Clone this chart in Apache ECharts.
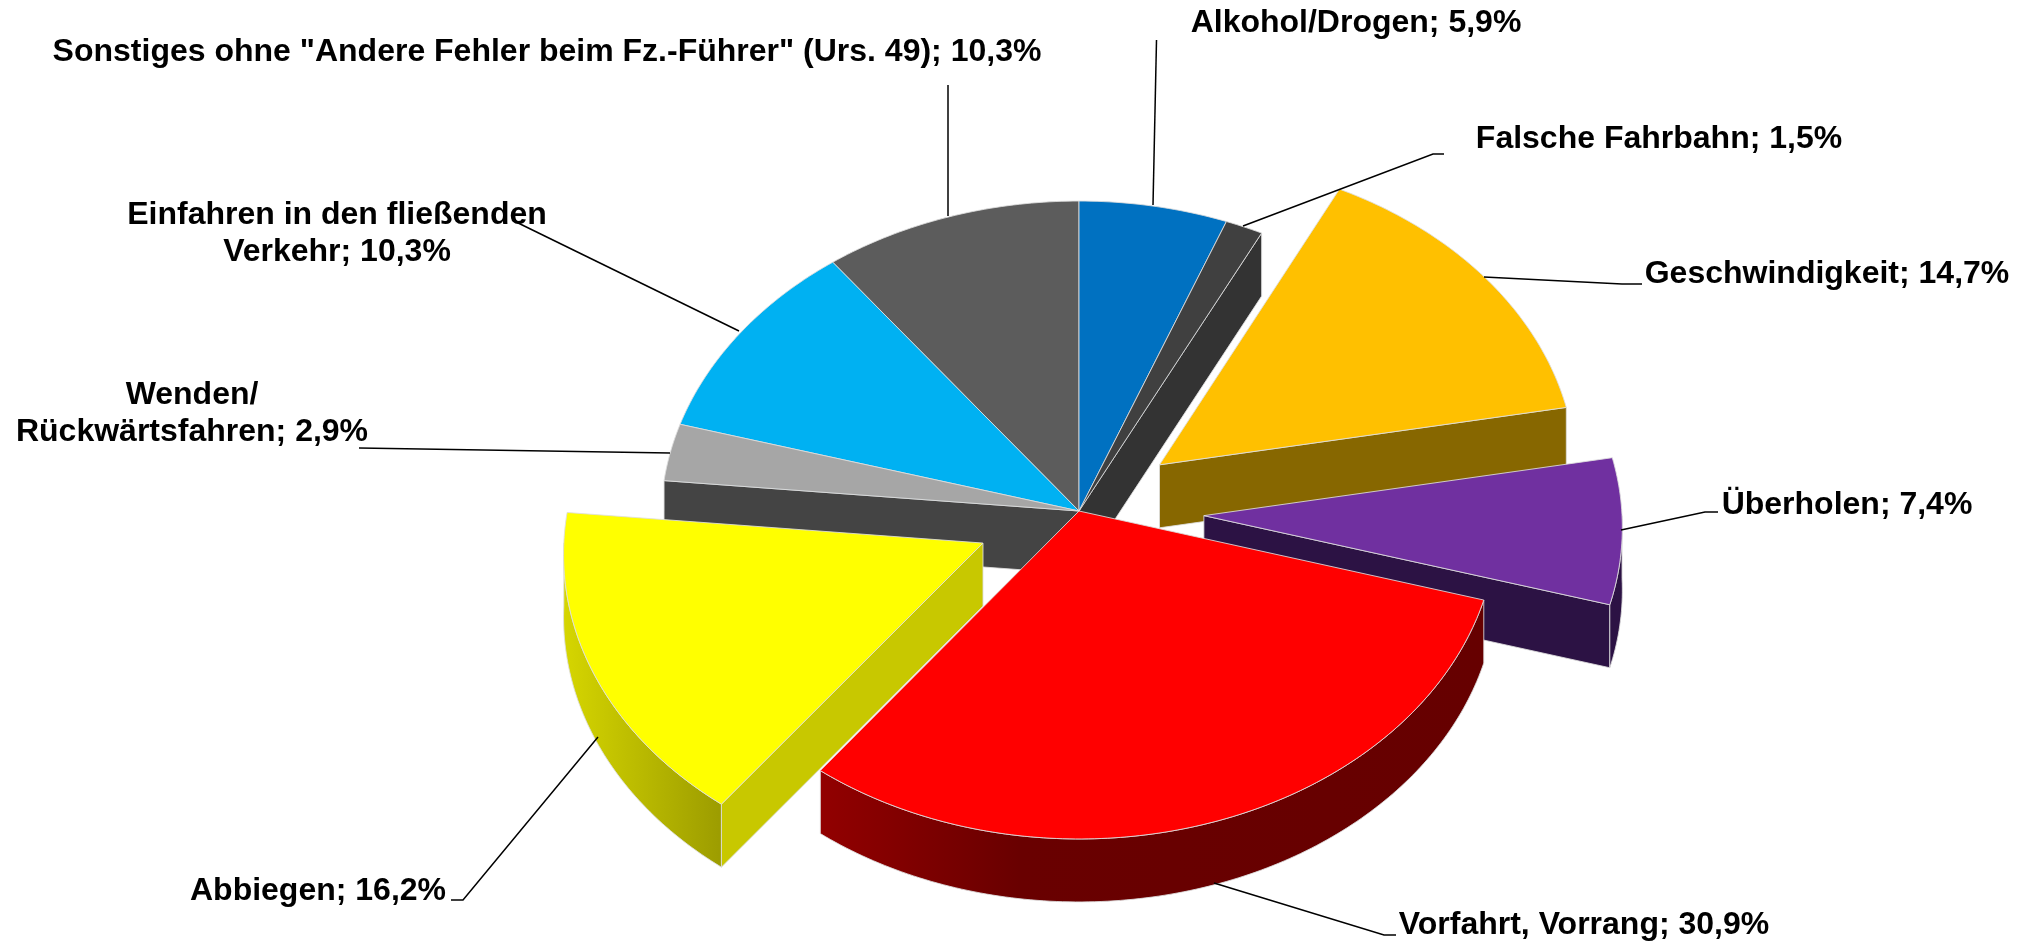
<!DOCTYPE html>
<html>
<head>
<meta charset="utf-8">
<style>html,body{margin:0;padding:0;background:#fff}#c{width:2033px;height:942px}</style>
<script src="https://cdn.jsdelivr.net/npm/echarts@6/dist/echarts.min.js"></script>
</head>
<body>
<div id="c"></div>
<script>
// --- data, clockwise from 12 o'clock ---
const categories = ['Alkohol/Drogen', 'Falsche Fahrbahn', 'Geschwindigkeit', 'Überholen', 'Vorfahrt, Vorrang', 'Abbiegen', 'Wenden/\nRückwärtsfahren', 'Einfahren in den fließenden\nVerkehr', 'Sonstiges ohne "Andere Fehler beim Fz.-Führer" (Urs. 49)'];
const shares = [5.9, 1.5, 14.7, 7.4, 30.9, 16.2, 2.9, 10.3, 10.3];
const valueLabels = ['5,9%', '1,5%', '14,7%', '7,4%', '30,9%', '16,2%', '2,9%', '10,3%', '10,3%'];

// --- styling ---
const explode = [0, 0, 0.242, 0.299, 0, 0.25, 0, 0, 0];
const topColors = ['#0071c1', '#404040', '#ffc000', '#7030a0', '#ff0000', '#ffff00', '#a6a6a6', '#00b1f2', '#5c5c5c'];
const faceColors = ['#00447a', '#333333', '#876700', '#2c1244', '#660000', '#c8c800', '#444444', '#006a91', '#333333'];
const wallStops = {
  4: [[0, '#920000'], [0.3, '#690000'], [1, '#660000']],
  5: [[0, '#d6d600'], [1, '#9c9c00']]
};
const paintOrder = [2, 3, 5, 6, 8, 7, 4, 1, 0];

// --- layout ---
const pie = { cx: 1079, cy: 511, rx: 418, ry: 318.7, persp: 0.0282, depth: 63 };
const labelPos = [[1356, 23], [1659, 139], [1827, 274], [1847, 505], [1584, 925], [318, 891], [192, 414], [337, 234], [547, 52]];
const leaders = [
  [[1153, 205], [1156.5, 40]],
  [[1243, 226], [1433, 154], [1444, 154]],
  [[1484, 277], [1622, 284], [1642, 284]],
  [[1621, 530], [1705, 512], [1718, 512]],
  [[1214, 883], [1384, 935], [1396, 935]],
  [[598, 737], [463, 900], [451, 900]],
  [[670, 453], [359, 448]],
  [[739, 331], [512, 220]],
  [[948, 216], [948, 85]]
];
const fontSize = 32;

const total = shares.reduce((a, b) => a + b, 0);
let running = 0;
const spans = shares.map(v => { const s = running; running += v; return [s / total * 2 * Math.PI, running / total * 2 * Math.PI]; });

function project(x, y, down) {
  const s = 1 / (1 - pie.persp * y);
  return [pie.cx + x * pie.rx * s, pie.cy + y * pie.ry * s + (down || 0)];
}
function rim(a) { return [Math.sin(a), -Math.cos(a)]; }

function renderSlice(params, api) {
  const i = params.dataIndex;
  const value = api.value(0);
  const a0 = spans[i][0], a1 = a0 + value / total * 2 * Math.PI;
  const mid = (a0 + a1) / 2, m = rim(mid), ox = m[0] * explode[i], oy = m[1] * explode[i];
  const arc = (from, to) => {
    const n = Math.max(3, Math.ceil((to - from) / 0.015)), top = [], low = [];
    for (let k = 0; k <= n; k++) {
      const r = rim(from + (to - from) * k / n);
      top.push(project(r[0] + ox, r[1] + oy, 0));
      low.push(project(r[0] + ox, r[1] + oy, pie.depth));
    }
    return { top, low };
  };
  const whole = arc(a0, a1);
  const last = whole.top.length - 1;
  const tip = project(ox, oy, 0), tipLow = project(ox, oy, pie.depth);
  const z = paintOrder[i] * 10;
  const edge = { stroke: 'rgba(222,222,222,0.85)', lineWidth: 1, lineJoin: 'round' };
  const wallFill = wallStops[i]
    ? new echarts.graphic.LinearGradient(0, 0, 1, 0, wallStops[i].map(s => ({ offset: s[0], color: s[1] })))
    : faceColors[i];
  const face = (outerTop, outerLow) => ({
    type: 'polygon', z2: z + 1, silent: true,
    shape: { points: [tip, outerTop, outerLow, tipLow] },
    style: Object.assign({ fill: faceColors[i] }, edge)
  });
  const children = [];
  // radial cut faces turned towards the viewer only
  if (Math.sin(a0) < 0) children.push(face(whole.top[0], whole.low[0]));
  if (Math.sin(a1) > 0) children.push(face(whole.top[last], whole.low[last]));
  // outer wall: only its front half can be seen
  const w0 = Math.max(a0, Math.PI / 2), w1 = Math.min(a1, 3 * Math.PI / 2);
  if (w1 > w0) {
    const wall = arc(w0, w1);
    children.push({
      type: 'polygon', z2: z + 2, silent: true,
      shape: { points: wall.top.concat(wall.low.slice().reverse()) },
      style: Object.assign({ fill: wallFill }, edge)
    });
  }
  children.push(
    {
      type: 'polygon', z2: z + 3, silent: true,
      shape: { points: [tip].concat(whole.top) },
      style: Object.assign({ fill: topColors[i] }, edge)
    },
    {
      type: 'polyline', z2: 200, silent: true,
      shape: { points: leaders[i] },
      style: { fill: null, stroke: '#000', lineWidth: 1.5 }
    },
    {
      type: 'text', z2: 300, silent: true,
      x: labelPos[i][0], y: labelPos[i][1],
      style: {
        text: categories[i] + '; ' + valueLabels[i],
        font: 'bold ' + fontSize + 'px "Liberation Sans", Arial, sans-serif',
        fill: '#000', align: 'center', verticalAlign: 'middle', lineHeight: 37
      }
    }
  );
  return { type: 'group', children };
}

const chart = echarts.init(document.getElementById('c'), null, { renderer: 'canvas' });
chart.setOption({
  animation: false,
  backgroundColor: '#ffffff',
  series: [{
    type: 'custom',
    coordinateSystem: 'none',
    renderItem: renderSlice,
    clip: false,
    silent: true,
    data: shares.map((v, i) => ({ name: categories[i], value: [v] }))
  }]
});
</script>
</body>
</html>
